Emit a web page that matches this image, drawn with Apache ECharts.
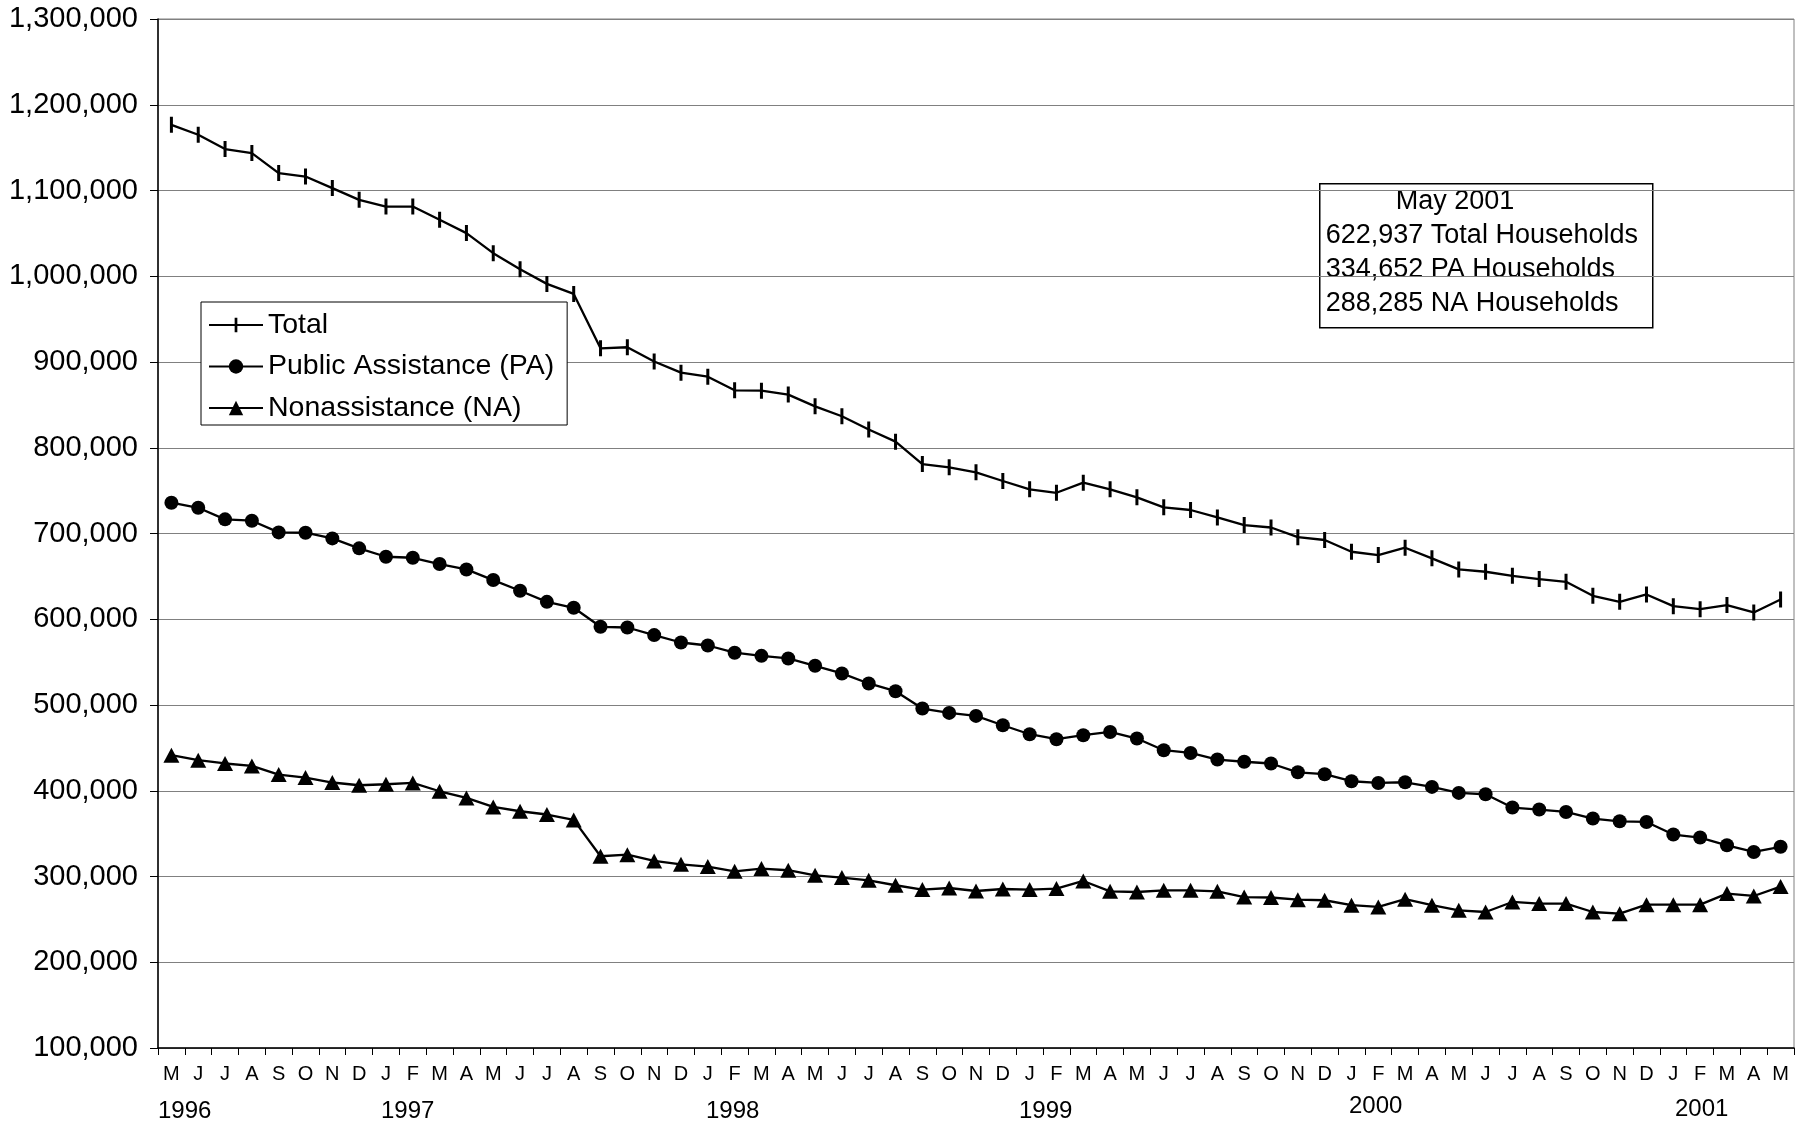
<!DOCTYPE html>
<html>
<head>
<meta charset="utf-8">
<script src="https://cdn.jsdelivr.net/npm/echarts@6/dist/echarts.min.js"></script>
<style>
html,body{margin:0;padding:0;background:#fff;}
#chart{width:1805px;height:1127px;}
</style>
</head>
<body>
<div id="chart"></div>
<script>
const months = ['M','J','J','A','S','O','N','D',
  'J','F','M','A','M','J','J','A','S','O','N','D',
  'J','F','M','A','M','J','J','A','S','O','N','D',
  'J','F','M','A','M','J','J','A','S','O','N','D',
  'J','F','M','A','M','J','J','A','S','O','N','D',
  'J','F','M','A','M'];
const yearLabels = ['1996','1997','1998','1999','2000','2001'];
const seriesNames = ['Total','Public Assistance (PA)','Nonassistance (NA)'];
const totalHouseholds = [1176600,1165000,1148300,1143600,1120300,1116300,1102800,1089100,1081300,1081300,1065800,1050300,1026900,1008200,991100,979400,916000,917200,900600,887600,882900,867000,866600,862000,848300,836700,821200,807100,781000,777200,771300,761200,751500,747500,759300,751500,742200,730500,727400,718800,709800,707000,695700,692400,678700,674900,683400,671000,658100,655400,650700,646800,643700,627300,620300,628900,615300,611800,616500,607900,622937];
const paHouseholds = [735900,730000,716500,714900,701300,700900,694300,682700,672900,671700,664400,658100,645700,633200,620300,613400,591200,590400,581500,572900,569400,561000,557300,554300,545700,536800,525100,516100,495900,490800,487300,476400,465900,460100,464800,468600,460900,447300,444100,436400,433800,431800,421500,419300,411100,409100,409900,404500,397500,395900,380400,378100,375300,367600,364400,363600,348900,345400,336400,328600,334652];
const naHouseholds = [441500,435600,431800,429000,418900,415400,409600,406400,407600,409100,399400,391600,381100,376100,372300,366000,323600,325500,318100,314200,311600,306000,309200,307300,301400,298700,295600,289800,284700,286600,283100,285400,284700,285900,294800,282700,281900,283900,283900,282700,276000,275500,273000,272300,266500,264500,273600,266500,260600,258600,270300,268400,268400,258600,256700,267200,267200,267200,280100,277300,288285];
const noteLines = ['May 2001','622,937 Total Households','334,652 PA Households','288,285 NA Households'];

const FONT = '"Liberation Sans", Arial, sans-serif';
const NARROW = '"Liberation Sans Narrow", "Arial Narrow", "Liberation Sans", sans-serif';
const barSymbol = 'path://M0,0L0,0ZM16,16L16,16ZM6.5,0H9.5V16H6.5Z';

const chart = echarts.init(document.getElementById('chart'), null, {renderer: 'canvas'});

const yearPos = [[184,1113],[407,1113],[732,1113],[1045,1113],[1375,1108],[1701,1111]];

const graphics = yearLabels.map((t, i) => ({
  type: 'text', left: yearPos[i][0] - 26, top: yearPos[i][1] - 14,
  style: {text: t, font: '24px ' + NARROW, fill: '#000'}
}));
graphics.push({
  type: 'group', left: 1319, top: 183, z: 100,
  children: [
    {type: 'rect', shape: {x: 0, y: 0, width: 333, height: 144}, style: {fill: '#fff', stroke: '#000', lineWidth: 1.5}},
    {type: 'text', x: 76, y: 18, style: {text: noteLines[0], font: '27px ' + FONT, fill: '#000', textVerticalAlign: 'middle'}},
    {type: 'text', x: 6, y: 52, style: {text: noteLines[1], font: '27px ' + FONT, fill: '#000', textVerticalAlign: 'middle'}},
    {type: 'text', x: 6, y: 86, style: {text: noteLines[2], font: '27px ' + FONT, fill: '#000', textVerticalAlign: 'middle'}},
    {type: 'text', x: 6, y: 120, style: {text: noteLines[3], font: '27px ' + FONT, fill: '#000', textVerticalAlign: 'middle'}}
  ]
});

const lineCommon = {
  type: 'line',
  lineStyle: {color: '#000', width: 2.3},
  itemStyle: {color: '#000'},
  emphasis: {disabled: true},
  z: 3
};

chart.setOption({
  animation: false,
  backgroundColor: '#fff',
  textStyle: {fontFamily: FONT},
  grid: {left: 158, right: 11, top: 19, bottom: 79, show: true, borderColor: '#808080', borderWidth: 1},
  legend: {
    left: 201, top: 302, orient: 'vertical',
    data: seriesNames,
    padding: [8, 13, 2, 7],
    itemGap: 11.5,
    itemWidth: 54, itemHeight: 18,
    backgroundColor: '#fff', borderColor: '#000', borderWidth: 1,
    textStyle: {fontSize: 28.5, lineHeight: 30, color: '#000', fontFamily: FONT},
    z: 100
  },
  xAxis: {
    type: 'category', data: months, boundaryGap: true,
    axisLine: {lineStyle: {color: '#000', width: 1.5}},
    axisTick: {show: true, length: 7, lineStyle: {color: '#000'}},
    axisLabel: {interval: 0, fontSize: 20, fontFamily: NARROW, color: '#000', margin: 16},
    splitLine: {show: false}
  },
  yAxis: {
    type: 'value', min: 100000, max: 1300000, interval: 100000,
    axisLine: {show: true, lineStyle: {color: '#000', width: 1.5}},
    axisTick: {show: true, length: 8, lineStyle: {color: '#000'}},
    axisLabel: {fontSize: 29, color: '#000', margin: 20, fontFamily: FONT,
      formatter: v => v.toLocaleString('en-US')},
    splitLine: {show: true, lineStyle: {color: '#808080', width: 1.2}}
  },
  graphic: graphics,
  series: [
    Object.assign({}, lineCommon, {name: seriesNames[0], data: totalHouseholds, symbol: barSymbol, symbolSize: 16}),
    Object.assign({}, lineCommon, {name: seriesNames[1], data: paHouseholds, symbol: 'circle', symbolSize: 14}),
    Object.assign({}, lineCommon, {name: seriesNames[2], data: naHouseholds, symbol: 'triangle', symbolSize: [16, 15]})
  ]
});
</script>
</body>
</html>
